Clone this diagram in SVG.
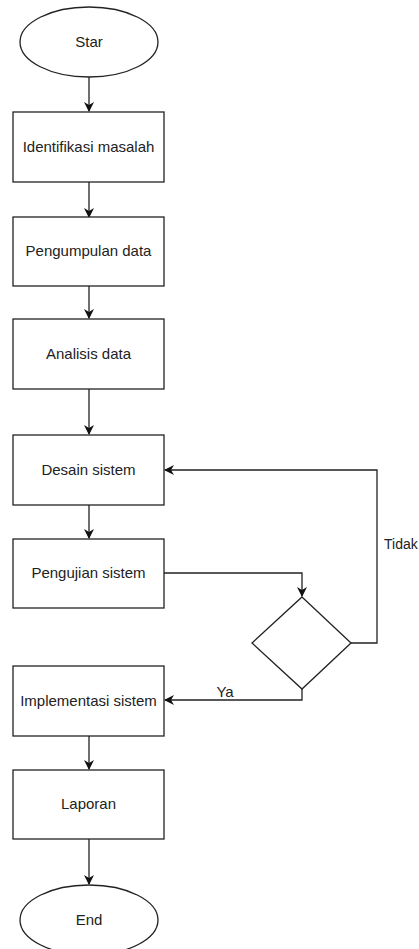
<svg xmlns="http://www.w3.org/2000/svg" width="419" height="949" viewBox="0 0 419 949">
<defs>
<marker id="arr" viewBox="0 0 10 10" refX="9" refY="5" markerWidth="10" markerHeight="10" markerUnits="userSpaceOnUse" orient="auto">
<path d="M0,0 L10,5 L0,10 L3,5 Z" fill="#111"/>
</marker>
<style>
.box{fill:#fff;stroke:#222;stroke-width:1.3}
.lbl{font-family:"Liberation Sans",Arial,sans-serif;font-size:15px;fill:#222;text-anchor:middle}
.edge{fill:none;stroke:#222;stroke-width:1.3}
</style>
</defs>
<rect width="419" height="949" fill="#fff"/>
<g id="connectors">
<path class="edge" d="M89,77 L89,111" marker-end="url(#arr)"/>
<path class="edge" d="M89,182 L89,217" marker-end="url(#arr)"/>
<path class="edge" d="M89,286 L89,318" marker-end="url(#arr)"/>
<path class="edge" d="M89,389 L89,434" marker-end="url(#arr)"/>
<path class="edge" d="M89,505 L89,538" marker-end="url(#arr)"/>
<path class="edge" d="M164,573 L302,573 L302,596" marker-end="url(#arr)"/>
<path class="edge" d="M351,643 L377,643 L377,470 L165,470" marker-end="url(#arr)"/>
<path class="edge" d="M302,689 L302,700 L165,700" marker-end="url(#arr)"/>
<path class="edge" d="M89,736 L89,769" marker-end="url(#arr)"/>
<path class="edge" d="M89,839 L89,884" marker-end="url(#arr)"/>
<text class="lbl" x="225" y="697">Ya</text>
<text class="lbl" x="384" y="549" style="text-anchor:start;font-size:14px">Tidak</text>
</g>
<g id="star"><ellipse class="box" cx="89" cy="42" rx="69" ry="35"/><text class="lbl" x="89" y="47">Star</text></g>
<g id="identifikasi"><rect class="box" x="13" y="112" width="151" height="70"/><text class="lbl" x="88.5" y="152">Identifikasi masalah</text></g>
<g id="pengumpulan"><rect class="box" x="13" y="217" width="151" height="69"/><text class="lbl" x="88.5" y="256">Pengumpulan data</text></g>
<g id="analisis"><rect class="box" x="13" y="319" width="151" height="70"/><text class="lbl" x="88.5" y="359">Analisis data</text></g>
<g id="desain"><rect class="box" x="13" y="435" width="151" height="70"/><text class="lbl" x="88.5" y="475">Desain sistem</text></g>
<g id="pengujian"><rect class="box" x="13" y="539" width="151" height="69"/><text class="lbl" x="88.5" y="578">Pengujian sistem</text></g>
<g id="keputusan"><polygon class="box" points="302,597 351,643 302,689 252,643"/></g>
<g id="implementasi"><rect class="box" x="13" y="666" width="151" height="70"/><text class="lbl" x="88.5" y="706">Implementasi sistem</text></g>
<g id="laporan"><rect class="box" x="13" y="770" width="151" height="69"/><text class="lbl" x="88.5" y="809">Laporan</text></g>
<g id="end"><ellipse class="box" cx="89" cy="920" rx="69" ry="35"/><text class="lbl" x="89" y="925">End</text></g>
</svg>
